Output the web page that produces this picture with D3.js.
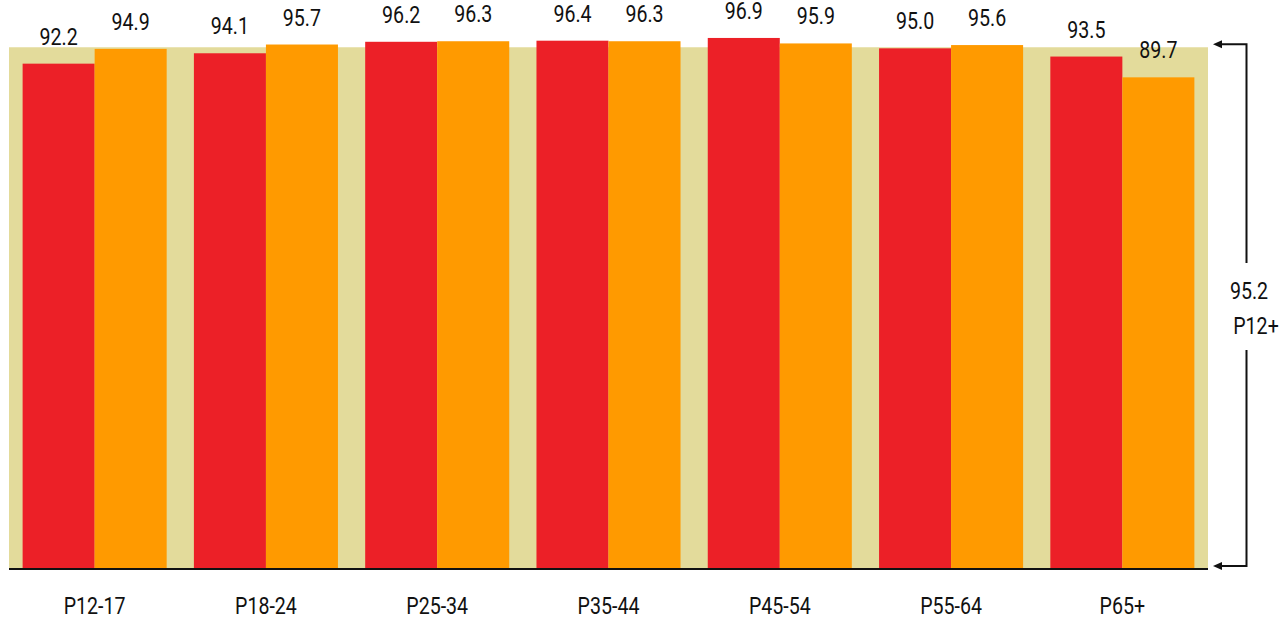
<!DOCTYPE html>
<html>
<head>
<meta charset="utf-8">
<script src="https://cdn.jsdelivr.net/npm/d3@7"></script>
<style>
  html, body { margin: 0; padding: 0; background: #fff; }
  svg { display: block; }
  text { font-family: Roboto, "Liberation Sans", Arial, sans-serif; font-weight: 400; fill: #111; }
</style>
</head>
<body>
<svg id="chart" width="1281" height="620"></svg>
<script>
const categories = ["P12-17", "P18-24", "P25-34", "P35-44", "P45-54", "P55-64", "P65+"];
const seriesA = [92.2, 94.1, 96.2, 96.4, 96.9, 95.0, 93.5];
const seriesB = [94.9, 95.7, 96.3, 96.3, 95.9, 95.6, 89.7];
const totalValue = 95.2;
const totalLabel = "P12+";
const colors = { A: "#EC2027", B: "#FF9A00", bg: "#E3DB9B" };

const FS = 24.5, SX = 0.8;
const svg = d3.select("#chart");

function narrowText(parent, x, y, str) {
  const g = parent.append("g").attr("transform", `translate(${x},${y}) scale(${SX},1)`);
  g.append("text").attr("text-anchor", "middle").attr("font-size", FS).text(str);
  return g;
}

const x = d3.scaleBand().domain(categories).range([9, 1208]).paddingInner(0.159).paddingOuter(0.0795);
const sub = d3.scaleBand().domain(["A", "B"]).range([0, x.bandwidth()]);
const y = d3.scaleLinear().domain([0, 100]).range([568, 21]);

// background reference (P12+ total)
svg.append("rect")
  .attr("x", x.range()[0]).attr("width", x.range()[1] - x.range()[0])
  .attr("y", y(totalValue)).attr("height", y(0) - y(totalValue))
  .attr("fill", colors.bg);

const rows = categories.map((c, i) => ({ c, A: seriesA[i], B: seriesB[i] }));

const g = svg.selectAll("g.grp").data(rows).join("g")
  .attr("class", "grp")
  .attr("transform", d => `translate(${x(d.c)},0)`);

["A", "B"].forEach(k => {
  g.append("rect")
    .attr("x", sub(k)).attr("width", sub.bandwidth())
    .attr("y", d => y(d[k])).attr("height", d => y(0) - y(d[k]))
    .attr("fill", colors[k]);
  g.each(function (d) {
    narrowText(d3.select(this), sub(k) + sub.bandwidth() / 2, y(d[k]) - 19, d[k].toFixed(1));
  });
});

// baseline axis
const xAxis = d3.axisBottom(x).tickSize(0).tickFormat(() => "");
const ax = svg.append("g").attr("transform", `translate(0,${y(0)})`).call(xAxis);
ax.select(".domain").attr("stroke", "#111").attr("stroke-width", 2.2).attr("d", `M${x.range()[0]},1H${x.range()[1]}`);
ax.selectAll(".tick").each(function (d) {
  narrowText(d3.select(this), 0, 46, d);
});

// right bracket annotation
const bx = 1246.5, tipX = 1213;
const yTop = y(totalValue) - 3, yBot = y(0) - 2;
const br = svg.append("g").attr("stroke", "#111").attr("stroke-width", 2).attr("fill", "none");
br.append("path").attr("d", `M${tipX + 6},${yTop}H${bx}V263`);
br.append("path").attr("d", `M${bx},350V${yBot}H${tipX + 6}`);
[yTop, yBot].forEach(yy => {
  svg.append("path")
    .attr("d", `M${tipX},${yy}L${tipX + 9},${yy - 4}L${tipX + 9},${yy + 4}Z`)
    .attr("fill", "#111");
});
narrowText(svg, 1249, 299, totalValue.toFixed(1));
narrowText(svg, 1256, 334, totalLabel);
</script>
</body>
</html>
